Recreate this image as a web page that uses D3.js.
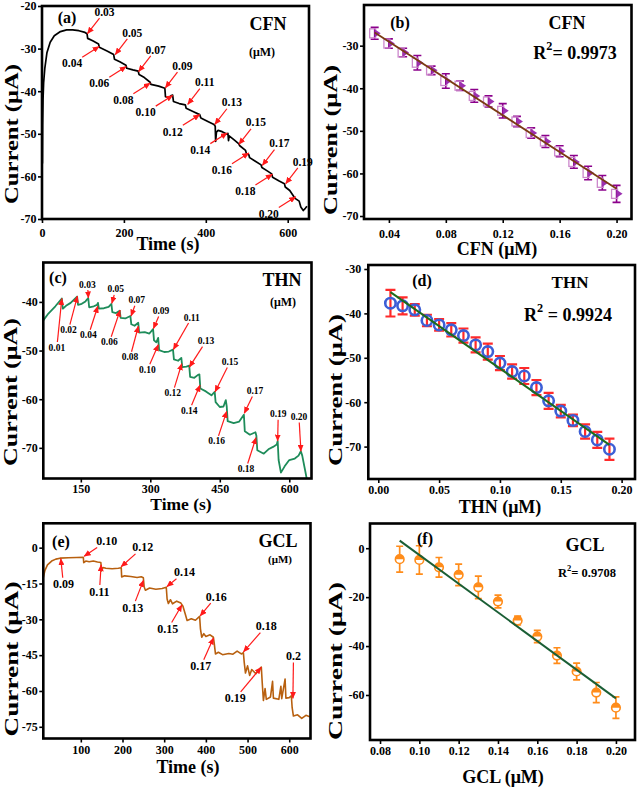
<!DOCTYPE html>
<html><head><meta charset="utf-8">
<script src="https://cdn.jsdelivr.net/npm/d3@7"></script>
<style>body{margin:0;background:#fff}svg{display:block}</style>
</head><body>
<script>
// ================= DATA =================
// (a) CFN amperometric trace
const aTime = [1,1.5,2.5,4,7,12,20,30,45,60,75,90,105,110,111.5,125,138,140,160,175,177,190,205,207,222,235,237,250,264,266,285,300,301.5,310,316,319,321,335,350,352,370,385,388,405,420,423,424,426,430,440,452,454,455.5,457,470,480,483,497,499,505,507,520,535,537,550,561,563,578,592,594,605,614,617,628,632,638,643,647];
const aCurrent = [-57,-48,-42,-38,-34.5,-31,-28.5,-27,-26,-25.6,-25.6,-25.8,-26.2,-26.5,-27.6,-28.2,-28.9,-29.7,-30.6,-31.4,-32.5,-33.1,-33.9,-34.6,-35.0,-35.3,-36.1,-36.8,-37.9,-38.4,-38.8,-39.3,-41.3,-41.5,-41.0,-40.9,-42.4,-42.9,-43.2,-44.0,-44.8,-45.5,-46.3,-47.1,-47.8,-48.2,-51.8,-49.6,-49.2,-49.5,-50.1,-49.9,-51.6,-50.5,-51.5,-52.3,-52.8,-53.9,-54.6,-54.9,-55.6,-56.4,-57.3,-57.9,-58.7,-59.4,-60.2,-61.0,-61.7,-62.5,-63.3,-64.6,-65.1,-65.8,-67.2,-68.0,-67.5,-67.0];
const aAnnLabels = ["0.03","0.04","0.05","0.06","0.07","0.08","0.09","0.10","0.11","0.12","0.13","0.14","0.15","0.16","0.17","0.18","0.19","0.20"];
const aAnnTime = [111,139.6,178.8,205.7,235.9,264.5,301.2,319.1,355.9,385.3,422,452.4,480.8,505.3,538.1,562.6,595.2,619.7];
const aAnnCurrent = [-26.5,-29.5,-31.4,-34.2,-35.4,-38.1,-39.2,-41,-43.1,-45.5,-47.8,-49.8,-52.5,-54.5,-57.4,-59.5,-61.7,-64.8];

// (b) CFN calibration
const bConc = [0.03,0.04,0.05,0.06,0.07,0.08,0.09,0.10,0.11,0.12,0.13,0.14,0.15,0.16,0.17,0.18,0.19,0.20];
const bCurrent = [-27.1,-29.5,-31.6,-34.0,-35.8,-38.3,-39.4,-41.8,-43.1,-45.3,-47.8,-50.5,-52.5,-54.8,-57.3,-59.9,-62.2,-64.8];
const bErr = [1.4,1.1,1.0,1.7,1.0,1.7,1.1,1.5,1.3,1.7,1.2,1.2,1.4,1.3,1.5,1.6,1.7,2.0];
const bFitConc = [0.03,0.20];
const bFitCurrent = [-26.9,-63.6];

// (c) THN amperometric trace
const cTime = [69,80,95,109,111,118,128,142,144,152,160,166,168,178,185,187,189,200,210,216,218,226,234,236,246,257,259,266,274,276,288,298,306,308,313,317,319,330,340,349,351,360,367,369,378,384,386,395,403,406,408,420,432,439,441,450,458,463,465,467,480,492,502,504,515,527,529,531,545,555,565,573,575,577,582,590,600,612,620,625,628,634,640];
const cCurrent = [-43.8,-42.4,-40.9,-39.3,-41.4,-40.8,-40.2,-38.9,-40.6,-40.4,-39.9,-39.2,-41.1,-40.9,-40.6,-40.2,-41.4,-41.3,-41.0,-40.4,-42.1,-42.3,-41.8,-43.3,-43.4,-42.9,-44.6,-44.9,-44.3,-46.3,-46.2,-46.5,-45.6,-47.9,-48.3,-47.4,-49.9,-50.3,-50.2,-49.8,-51.8,-52.1,-51.5,-53.4,-53.3,-53.1,-55.4,-55.6,-55.0,-54.9,-57.8,-58.4,-59.2,-58.5,-60.6,-61.6,-61.5,-60.2,-61.5,-64.5,-64.9,-64.6,-63.2,-66.6,-67.3,-66.8,-67.5,-70.5,-71.2,-70.3,-69.8,-69.3,-68.6,-72.5,-75.1,-73.8,-72.5,-72.2,-71.6,-70.7,-71.6,-74.5,-77.5];
const cAnnLabels = ["0.01","0.02","0.03","0.04","0.05","0.06","0.07","0.08","0.09","0.10","0.11","0.12","0.13","0.14","0.15","0.16","0.17","0.18","0.19","0.20"];
const cAnnTime = [109,142.7,166.4,186.7,216.9,234.8,258.5,274.2,306.6,317.4,349.7,367.9,384.3,407.3,439.7,464.9,502.9,528.1,574.9,625.2];
const cAnnCurrent = [-39.3,-38.8,-39.2,-40.9,-40.3,-41.7,-42.9,-45,-45.5,-48.8,-49.8,-52.7,-53.4,-57.1,-58.5,-62.5,-62.9,-67.9,-68.6,-70.7];

// (d) THN calibration
const dConc = [0.01,0.02,0.03,0.04,0.05,0.06,0.07,0.08,0.09,0.10,0.11,0.12,0.13,0.14,0.15,0.16,0.17,0.18,0.19];
const dCurrent = [-37.7,-38.3,-39.2,-41.6,-42.6,-43.7,-45.0,-47.1,-48.6,-51.2,-53.1,-54.1,-56.7,-59.7,-62.0,-64.1,-66.6,-68.5,-70.6];
const dErr = [3.0,1.9,1.3,1.3,1.3,1.5,1.6,1.7,1.8,1.6,1.6,1.8,1.7,1.8,1.4,1.3,1.6,1.8,2.4];
const dFitConc = [0.01,0.19];
const dFitCurrent = [-35.2,-69.6];

// (e) GCL amperometric trace
const eTime = [10,14,20,30,40,50,70,90,106,107,112,120,130,140,148,150,153,160,175,190,197,198,205,220,235,245,250,252,255,265,280,295,305,307,310,315,320,330,340,345,350,355,365,375,385,387,390,395,400,410,418,420,423,430,440,455,465,475,485,490,492,495,500,505,510,520,530,533,535,538,542,545,555,560,562,575,580,582,590,592,600,605,607,610,620,630,640,649];
const eCurrent = [-12.5,-9.5,-7.2,-5.6,-4.8,-4.4,-4.2,-4.1,-4.0,-6.3,-5.6,-5.9,-5.6,-6.0,-6.2,-9.8,-8.3,-8.6,-8.8,-8.6,-8.4,-12.3,-11.8,-12.1,-12.5,-12.2,-12.6,-16.5,-17.8,-16.9,-17.4,-17.1,-16.6,-21.5,-23.4,-21.8,-23.5,-22.4,-23.2,-24.5,-27.5,-30.5,-29.8,-30.4,-28.8,-34,-37.5,-36,-37.2,-36.5,-37.5,-40,-44.5,-43.8,-44.8,-44.3,-44.6,-43.3,-44.5,-44,-48,-52.5,-49.5,-53.5,-51,-52.8,-50.5,-50,-56,-64,-59,-63.5,-62.5,-56,-63,-63.5,-58,-63.2,-55,-63,-62.8,-62,-67,-70.5,-70,-71.5,-70.2,-70.8];
const eAnnLabels = ["0.09","0.10","0.11","0.12","0.13","0.14","0.15","0.16","0.17","0.18","0.19","0.2"];
const eAnnTime = [52,108,148.7,196.7,250.2,306.4,342.4,386.3,418.2,490.2,532.7,608.8];
const eAnnCurrent = [-4.6,-3.6,-7.2,-8.0,-13.7,-16.3,-24.0,-28.6,-37.8,-43.6,-50.1,-63.1];

// (f) GCL calibration
const fConc = [0.09,0.10,0.11,0.12,0.13,0.14,0.15,0.16,0.17,0.18,0.19,0.20];
const fCurrent = [-4.5,-4.8,-7.8,-10.9,-16.0,-21.8,-29.6,-36.1,-43.9,-50.4,-59.0,-65.2];
const fErr = [5.3,5.8,4.0,4.4,4.6,2.6,1.8,2.5,3.2,3.4,4.1,4.4];
const fFitConc = [0.09,0.20];
const fFitCurrent = [3.1,-61.4];

// tick values
const aXTicks=[0,200,400,600], aYTicks=[-20,-30,-40,-50,-60,-70];
const bXTicks=[0.04,0.08,0.12,0.16,0.20], bYTicks=[-30,-40,-50,-60,-70];
const cXTicks=[150,300,450,600], cYTicks=[-40,-50,-60,-70];
const dXTicks=[0.00,0.05,0.10,0.15,0.20], dYTicks=[-30,-40,-50,-60,-70];
const eXTicks=[100,200,300,400,500,600], eYTicks=[0,-15,-30,-45,-60,-75];
const fXTicks=[0.08,0.10,0.12,0.14,0.16,0.18,0.20], fYTicks=[0,-20,-40,-60];

// ================= DRAWING =================
const FONT = "'Liberation Serif','Times New Roman',Times,serif";
const svg = d3.select('body').append('svg').attr('width',640).attr('height',788);
const defs = svg.append('defs');
defs.append('marker').attr('id','arrowRed').attr('markerUnits','userSpaceOnUse')
  .attr('markerWidth',7).attr('markerHeight',6).attr('refX',6.5).attr('refY',3).attr('orient','auto')
  .append('path').attr('d','M0,0 L7,3 L0,6 Z').attr('fill','#ff1a1a');

const yFmt = d => (d<0?'-':'') + Math.abs(d);
const f2 = d3.format('.2f');

function panel(o){
  const x = d3.scaleLinear().domain(o.xDomain).range([o.L,o.R]);
  const y = d3.scaleLinear().domain(o.yDomain).range([o.B,o.T]);
  const g = svg.append('g');
  const cid = 'clip-'+o.id;
  defs.append('clipPath').attr('id',cid).append('rect')
    .attr('x',o.L).attr('y',o.T).attr('width',o.R-o.L).attr('height',o.B-o.T);
  const gx = g.append('g').attr('transform',`translate(0,${o.B})`)
    .call(d3.axisBottom(x).tickValues(o.xTicks).tickFormat(o.xFmt).tickSizeInner(4).tickSizeOuter(0).tickPadding(o.xPad));
  const gy = g.append('g').attr('transform',`translate(${o.L},0)`)
    .call(d3.axisLeft(y).tickValues(o.yTicks).tickFormat(yFmt).tickSizeInner(4).tickSizeOuter(0).tickPadding(o.yPad));
  [gx,gy].forEach(a=>{
    a.select('.domain').remove();
    a.selectAll('line').attr('stroke','#000').attr('stroke-width',1.6);
    a.selectAll('text').attr('font-family',FONT).attr('font-weight','bold').attr('font-size',12).attr('fill','#000');
  });
  const plot = g.append('g').attr('clip-path',`url(#${cid})`);
  const top = g.append('g');
  // titles
  top.append('text').attr('transform',`translate(${o.yT[0]},${o.yT[1]}) rotate(-90)`)
    .attr('text-anchor','middle').attr('dominant-baseline','central')
    .attr('font-family',FONT).attr('font-weight','bold').attr('font-size',19)
    .attr('textLength',o.yT[2]).attr('lengthAdjust','spacingAndGlyphs').text('Current (μA)');
  top.append('text').attr('x',o.xT[0]).attr('y',o.xT[1]).attr('text-anchor','middle').attr('dominant-baseline','central')
    .attr('font-family',FONT).attr('font-weight','bold').attr('font-size',o.xT[2]).text(o.xTitle);
  // labels inside
  o.texts.forEach(t=>{
    const el = top.append('text').attr('x',t[0]).attr('y',t[1]).attr('text-anchor','middle').attr('dominant-baseline','central')
      .attr('font-family',FONT).attr('font-weight','bold').attr('font-size',t[2]);
    if(t[4]){ // R^2
      el.append('tspan').text('R');
      el.append('tspan').attr('font-size',t[2]*0.68).attr('dy',-t[2]*0.38).text('2');
      el.append('tspan').attr('dy',t[2]*0.38).text(t[3]);
    } else el.text(t[3]);
  });
  const frame = ()=> g.append('rect').attr('x',o.L).attr('y',o.T).attr('width',o.R-o.L).attr('height',o.B-o.T)
      .attr('fill','none').attr('stroke','#000').attr('stroke-width',2.6);
  return {x,y,g,plot,top,frame};
}

function trace(p, xs, ys, color, w){
  p.plot.append('path').datum(xs.map((d,i)=>[d,ys[i]]))
    .attr('d', d3.line().x(d=>p.x(d[0])).y(d=>p.y(d[1])))
    .attr('fill','none').attr('stroke',color).attr('stroke-width',w).attr('stroke-linejoin','round');
}

function annotate(p, labels, ts, vs, offs, fs){
  labels.forEach((lab,i)=>{
    const tx=p.x(ts[i]), ty=p.y(vs[i]);
    const lx=tx+offs[i][0], ly=ty+offs[i][1];
    const dx=tx-lx, dy=ty-ly, len=Math.hypot(dx,dy), ux=dx/len, uy=dy/len;
    const hw=fs*lab.length*0.26+1.5, hh=fs*0.42+1.5;
    const r=Math.min(Math.abs(ux)>1e-6?hw/Math.abs(ux):1e9, Math.abs(uy)>1e-6?hh/Math.abs(uy):1e9);
    p.top.append('line').attr('x1',lx+ux*r).attr('y1',ly+uy*r).attr('x2',tx).attr('y2',ty)
      .attr('stroke','#ff1a1a').attr('stroke-width',1.2).attr('marker-end','url(#arrowRed)');
    p.top.append('text').attr('x',lx).attr('y',ly).attr('text-anchor','middle').attr('dominant-baseline','central')
      .attr('font-family',FONT).attr('font-weight','bold').attr('font-size',fs).text(lab);
  });
}

function errorBars(p, xs, ys, es, color, cap, w){
  const g = p.plot.append('g').attr('stroke',color).attr('stroke-width',w).attr('fill','none');
  xs.forEach((xv,i)=>{
    const X=p.x(xv), y1=p.y(ys[i]+es[i]), y2=p.y(ys[i]-es[i]);
    g.append('line').attr('x1',X).attr('x2',X).attr('y1',y1).attr('y2',y2);
    g.append('line').attr('x1',X-cap).attr('x2',X+cap).attr('y1',y1).attr('y2',y1);
    g.append('line').attr('x1',X-cap).attr('x2',X+cap).attr('y1',y2).attr('y2',y2);
  });
}
function fitLine(p, xs, ys, color, w){
  p.plot.append('line').attr('x1',p.x(xs[0])).attr('y1',p.y(ys[0])).attr('x2',p.x(xs[1])).attr('y2',p.y(ys[1]))
    .attr('stroke',color).attr('stroke-width',w);
}

// ---------- (a) ----------
const A = panel({id:'a',L:42,R:309,T:6,B:219,xDomain:[0,652],yDomain:[-70,-20],xTicks:aXTicks,yTicks:aYTicks,
  xFmt:d3.format('d'),xPad:5,yPad:1.5,xTitle:'Time (s)',xT:[168,244,18],yT:[11,134,140],
  texts:[[67,17,16,'(a)'],[268,24,18,'CFN'],[262,52,12,'(μM)']]});
trace(A,aTime,aCurrent,'#000',1.7);
annotate(A,aAnnLabels,aAnnTime,aAnnCurrent,aAnnLabels.map((d,i)=>i%2===0?[17,-22]:[-27,17]),11.5);
A.frame();

// ---------- (b) ----------
const B = panel({id:'b',L:364,R:631.5,T:5,B:219,xDomain:[0.0225,0.2105],yDomain:[-70.7,-20.45],xTicks:bXTicks,yTicks:bYTicks,
  xFmt:f2,xPad:6,yPad:1.5,xTitle:'CFN (μM)',xT:[497,249,18],yT:[330,140,150],
  texts:[[400,22,16,'(b)'],[567,23,18,'CFN'],[575,53,18,'= 0.9973',true]]});
errorBars(B,bConc,bCurrent,bErr,'#8b008b',4,1.6);
const bm = B.plot.append('g');
bConc.forEach((c,i)=>{
  const X=B.x(c), Y=B.y(bCurrent[i]);
  bm.append('rect').attr('x',X-5).attr('y',Y-4.5).attr('width',6).attr('height',9).attr('fill','none').attr('stroke','#cc88cc').attr('stroke-width',1.3);
  bm.append('path').attr('d',`M${X},${Y-4} L${X+6},${Y} L${X},${Y+4} Z`).attr('fill','#9b30b0');
});
fitLine(B,bFitConc,bFitCurrent,'#7a3a12',1.8);
B.frame();

// ---------- (c) ----------
const C = panel({id:'c',L:43.3,R:311.5,T:262.5,B:478.5,xDomain:[69,648],yDomain:[-76.3,-31.9],xTicks:cXTicks,yTicks:cYTicks,
  xFmt:d3.format('d'),xPad:2,yPad:1.5,xTitle:'Time (s)',xT:[181,504,17.5],yT:[10.5,392,148],
  texts:[[58,277,16,'(c)'],[282,280,18,'THN'],[283,302,12,'(μM)']]});
trace(C,cTime,cCurrent,'#1e8c5a',1.8);
const cOffs=[[-5,49],[-9,34],[-1,-13.5],[-9.4,29],[4,-14],[-10.7,32],[5.7,-15.7],[-8.3,31],[7.7,-17.6],[-11,25],[18.4,-32],[-9,29.4],[16.7,-26],[-10.7,25.7],[15,-30],[-10,30],[10.7,-22.3],[-10,31.3],[0.6,-26.7],[-2,-34.3]];
annotate(C,cAnnLabels,cAnnTime,cAnnCurrent,cOffs,9.5);
C.frame();

// ---------- (d) ----------
const D = panel({id:'d',L:368.3,R:635,T:265,B:479,xDomain:[-0.0082,0.211],yDomain:[-77.3,-29.1],xTicks:dXTicks,yTicks:dYTicks,
  xFmt:f2,xPad:2,yPad:3,xTitle:'THN (μM)',xT:[500,507,18],yT:[335,390,152],
  texts:[[422,280,16,'(d)'],[570,282,17,'THN'],[568,315,18,' = 0.9924',true]]});
errorBars(D,dConc,dCurrent,dErr,'#ff2a2a',5,2.2);
D.plot.append('g').selectAll('circle').data(dConc).join('circle')
  .attr('cx',d=>D.x(d)).attr('cy',(d,i)=>D.y(dCurrent[i])).attr('r',5.2)
  .attr('fill','none').attr('stroke','#3d5fd6').attr('stroke-width',2.6);
fitLine(D,dFitConc,dFitCurrent,'#1d6b1d',2);
D.frame();

// ---------- (e) ----------
const E = panel({id:'e',L:43.3,R:310.5,T:523.3,B:738.5,xDomain:[10,651],yDomain:[-79.9,10.2],xTicks:eXTicks,yTicks:eYTicks,
  xFmt:d3.format('d'),xPad:3,yPad:1.5,xTitle:'Time (s)',xT:[188,767,18],yT:[11.7,659,155],
  texts:[[61,541,16,'(e)'],[278,541,18,'GCL'],[280,559,11,'(μM)']]});
trace(E,eTime,eCurrent,'#b8600f',1.6);
const eOffs=[[2.6,25.7],[22.7,-15.3],[-1.7,26.7],[21.7,-19.4],[-10.6,27.3],[17.6,-14.4],[-14,24],[16,-19.3],[-12.6,28.4],[22.7,-25.7],[-26,31],[0.6,-42.3]];
annotate(E,eAnnLabels,eAnnTime,eAnnCurrent,eOffs,12);
E.frame();

// ---------- (f) ----------
const F = panel({id:'f',L:370,R:635,T:523.5,B:740,xDomain:[0.0749,0.2097],yDomain:[-78.4,10.1],xTicks:fXTicks,yTicks:fYTicks,
  xFmt:f2,xPad:2,yPad:1.5,xTitle:'GCL (μM)',xT:[503,777,18],yT:[335,661,158],
  texts:[[425,538,16,'(f)'],[585,545,18,'GCL'],[587,573,12.5,'= 0.9708',true]]});
errorBars(F,fConc,fCurrent,fErr,'#ff8c1a',3.5,1.7);
const fm=F.plot.append('g');
fConc.forEach((c,i)=>{
  const X=F.x(c), Y=F.y(fCurrent[i]), r=4.3;
  fm.append('circle').attr('cx',X).attr('cy',Y).attr('r',r).attr('fill','#fff').attr('stroke','#ff8c1a').attr('stroke-width',1.6);
  fm.append('path').attr('d',`M${X-r},${Y} A${r},${r} 0 0 1 ${X+r},${Y} Z`).attr('fill','#ff8c1a');
});
fitLine(F,fFitConc,fFitCurrent,'#1a5e35',2);
F.frame();
</script>
</body></html>
